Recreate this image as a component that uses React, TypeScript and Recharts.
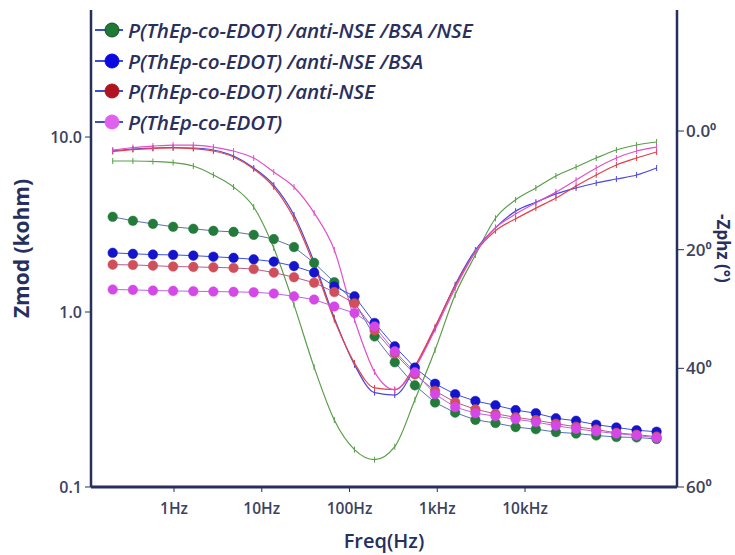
import React from "react";
import { ComposedChart, Line, XAxis, YAxis } from "recharts";

const freqs = [0.2, 0.34, 0.575, 0.977, 1.66, 2.81, 4.77, 8.09, 13.7, 23.3, 39.5, 67.1, 114, 193, 328, 556, 944, 1600, 2720, 4610, 7820, 13300, 22500, 38200, 64800, 110000, 187000, 316000];

const zmodGreen = [3.5, 3.32, 3.19, 3.07, 2.99, 2.91, 2.87, 2.76, 2.61, 2.35, 1.91, 1.48, 1.14, 0.725, 0.516, 0.381, 0.304, 0.266, 0.242, 0.232, 0.22, 0.214, 0.206, 0.202, 0.197, 0.193, 0.192, 0.188];
const zmodBlue = [2.18, 2.15, 2.13, 2.12, 2.1, 2.07, 2.04, 2.0, 1.94, 1.83, 1.68, 1.4, 1.23, 0.866, 0.636, 0.481, 0.389, 0.339, 0.31, 0.293, 0.275, 0.264, 0.247, 0.239, 0.227, 0.219, 0.211, 0.207];
const zmodRed = [1.865, 1.858, 1.84, 1.82, 1.81, 1.8, 1.786, 1.76, 1.68, 1.58, 1.47, 1.3, 1.12, 0.785, 0.58, 0.44, 0.354, 0.305, 0.278, 0.262, 0.25, 0.241, 0.23, 0.221, 0.213, 0.204, 0.199, 0.194];
const zmodMagenta = [1.344, 1.338, 1.326, 1.32, 1.314, 1.309, 1.304, 1.297, 1.275, 1.23, 1.178, 1.075, 0.987, 0.827, 0.596, 0.452, 0.339, 0.286, 0.264, 0.254, 0.244, 0.235, 0.224, 0.215, 0.208, 0.202, 0.197, 0.191];

// -phase (degrees)
const phaseGreen = [5.05, 5.05, 5.14, 5.31, 5.9, 7.41, 9.44, 12.8, 19.7, 29.3, 39.8, 48.7, 53.7, 55.4, 53.2, 45.3, 36.9, 27.6, 20.9, 14.7, 11.6, 9.6, 7.58, 6.07, 4.55, 3.2, 2.36, 1.85];
const phaseBlue = [3.37, 3.03, 2.86, 2.78, 2.86, 3.2, 4.21, 6.23, 9.1, 14.15, 22.07, 31.5, 39.4, 44.1, 44.5, 39.9, 33.2, 25.9, 20.05, 16.3, 13.5, 12.0, 10.6, 9.6, 8.76, 8.09, 7.41, 6.23];
const phaseRed = [3.45, 3.12, 2.95, 2.86, 2.95, 3.37, 4.38, 6.4, 9.44, 14.7, 22.6, 31.8, 39.1, 43.3, 43.6, 39.6, 33.0, 26.1, 20.4, 16.8, 14.8, 13.0, 11.3, 9.27, 7.41, 5.73, 4.55, 3.54];
const phaseMagenta = [3.2, 2.78, 2.53, 2.36, 2.36, 2.7, 3.37, 4.55, 6.91, 9.44, 13.8, 20.05, 31.8, 40.6, 43.6, 39.9, 33.5, 26.5, 20.4, 16.3, 14.0, 12.1, 10.3, 8.26, 6.23, 4.55, 3.37, 2.7];

const seriesNames = [
  "P(ThEp-co-EDOT) /anti-NSE /BSA /NSE",
  "P(ThEp-co-EDOT) /anti-NSE /BSA",
  "P(ThEp-co-EDOT) /anti-NSE",
  "P(ThEp-co-EDOT)",
];
const dotColors = ["#237a3b", "#1414cc", "#cf4f5a", "#d548e8"];
const legendDotColors = ["#1f7a36", "#0a0ae0", "#b0141e", "#e060f0"];
const zLineColors = ["#5a72b0", "#3a4fe0", "#b85a8a", "#b866e0"];
const phaseColors = ["#5a9e4a", "#4848e0", "#e0404a", "#e050c8"];

const xTicks = [1, 10, 100, 1000, 10000];
const xTickLabels = ["1Hz", "10Hz", "100Hz", "1kHz", "10kHz"];
const zTicks = [0.1, 1, 10];
const phaseTicks = [0, 20, 40, 60];

const data = freqs.map((f, i) => ({
  f,
  z0: zmodGreen[i],
  z1: zmodBlue[i],
  z2: zmodRed[i],
  z3: zmodMagenta[i],
  p0: phaseGreen[i],
  p1: phaseBlue[i],
  p2: phaseRed[i],
  p3: phaseMagenta[i],
}));

const NAVY = "#26305e";
const TICK_COLOR = "#3b4262";
const FONT = "'Open Sans', sans-serif";

const TickDot = (props: any) => {
  const { cx, cy, stroke, index } = props;
  if (cx == null || cy == null) return <g key={`t-${index}`} />;
  return <line key={`t-${index}`} x1={cx} x2={cx} y1={cy - 3} y2={cy + 3} stroke={stroke} strokeWidth={1} />;
};

const LegendBox = () => (
  <div style={{ position: "absolute", left: 94, top: 15, fontFamily: FONT, pointerEvents: "none" }}>
    {seriesNames.map((n, i) => (
      <div key={n} style={{ display: "flex", alignItems: "center", height: 30.5 }}>
        <svg width={32} height={18} style={{ display: "block" }}>
          <line x1={1} x2={29} y1={9} y2={9} stroke="#3a50d0" strokeWidth={2} />
          <circle cx={18} cy={9} r={7} fill={legendDotColors[i]} stroke={i === 0 ? "#1a4a2a" : legendDotColors[i]} strokeWidth={1} />
        </svg>
        <span style={{ fontStyle: "italic", fontWeight: 600, fontSize: 20.6, letterSpacing: -0.1, color: "#2a2f5e", marginLeft: 2, whiteSpace: "nowrap" }}>{n}</span>
      </div>
    ))}
  </div>
);

export default function App() {
  return (
    <div style={{ position: "absolute", left: 0, top: 0, width: 735, height: 555, background: "#fff", overflow: "hidden" }}>
      <ComposedChart width={735} height={555} data={data} margin={{ top: 10, right: 0, bottom: 0, left: 0 }}>
        <XAxis
          xAxisId="b"
          dataKey="f"
          type="number"
          scale="log"
          domain={[0.1132, 539800]}
          allowDataOverflow
          ticks={xTicks}
          tickFormatter={(v: number) => xTickLabels[xTicks.indexOf(v)] ?? ""}
          height={68}
          stroke={NAVY}
          axisLine={{ stroke: NAVY, strokeWidth: 3 }}
          tickLine={{ stroke: NAVY, strokeWidth: 1 }}
          tickSize={5}
          tickMargin={11}
          tick={{ fill: TICK_COLOR, fontSize: 15.5, fontFamily: FONT, fontWeight: 600 }}
          label={{ value: "Freq(Hz)", position: "insideBottom", offset: 7, fill: NAVY, fontSize: 20, fontWeight: 600, fontFamily: FONT }}
        />
        <XAxis
          xAxisId="t"
          dataKey="f"
          type="number"
          scale="log"
          domain={[0.1132, 539800]}
          allowDataOverflow
          orientation="top"
          height={0}
          tick={false}
          tickLine={false}
          axisLine={{ stroke: NAVY, strokeWidth: 2 }}
        />
        <YAxis
          yAxisId="z"
          type="number"
          scale="log"
          domain={[0.1, 53.2]}
          allowDataOverflow
          ticks={zTicks}
          tickFormatter={(v: number) => v.toFixed(1)}
          width={91}
          axisLine={{ stroke: NAVY, strokeWidth: 2.5 }}
          tickLine={{ stroke: NAVY, strokeWidth: 1 }}
          tickSize={6}
          tickMargin={3}
          tick={{ fill: TICK_COLOR, fontSize: 16, fontFamily: FONT, fontWeight: 600 }}
          label={{ value: "Zmod (kohm)", angle: -90, position: "insideLeft", offset: 22, fill: NAVY, fontSize: 21, fontWeight: 700, fontFamily: FONT, style: { textAnchor: "middle" } }}
        />
        <YAxis
          yAxisId="p"
          orientation="right"
          type="number"
          domain={[-20.4, 60]}
          reversed
          allowDataOverflow
          ticks={phaseTicks}
          tickFormatter={(v: number) => (v === 0 ? "0.0\u2070" : `${v}\u2070`)}
          width={58}
          axisLine={{ stroke: NAVY, strokeWidth: 2.5 }}
          tickLine={{ stroke: NAVY, strokeWidth: 1 }}
          tickSize={7}
          tickMargin={2}
          tick={{ fill: TICK_COLOR, fontSize: 17, fontFamily: FONT, fontWeight: 600 }}
          label={{ value: "-Zphz (\u00b0)", angle: 90, position: "insideRight", offset: 12, fill: NAVY, fontSize: 17, fontWeight: 700, fontFamily: FONT, style: { textAnchor: "middle" } }}
        />
        {[0, 1, 2, 3].map((i) => (
          <Line
            key={`p${i}`}
            xAxisId="b"
            yAxisId="p"
            type="monotone"
            dataKey={`p${i}`}
            stroke={phaseColors[i]}
            strokeWidth={1.2}
            dot={<TickDot />}
            activeDot={false}
            isAnimationActive={false}
            legendType="none"
          />
        ))}
        {[0, 1, 2, 3].map((i) => (
          <Line
            key={`z${i}`}
            xAxisId="b"
            yAxisId="z"
            type="linear"
            dataKey={`z${i}`}
            name={seriesNames[i]}
            stroke={zLineColors[i]}
            strokeWidth={1}
            dot={{ r: 4.8, fill: dotColors[i], stroke: dotColors[i], strokeWidth: 0.5 }}
            activeDot={false}
            isAnimationActive={false}
          />
        ))}
      </ComposedChart>
      <LegendBox />
    </div>
  );
}
